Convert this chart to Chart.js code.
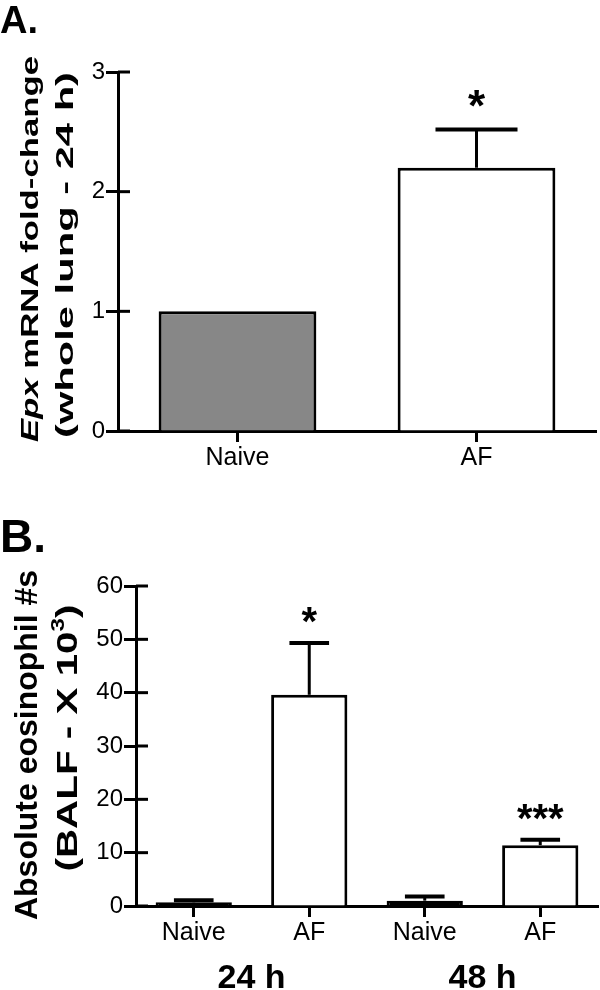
<!DOCTYPE html>
<html lang="en">
<head>
<meta charset="UTF-8">
<title>Epx mRNA and BALF eosinophils</title>
<script src="https://cdn.jsdelivr.net/npm/chart.js"></script>
<style>
  body { margin: 0; background: #fff; }
  canvas { position: absolute; left: 0; }
  #panelA { top: 0; }
  #panelB { top: 480px; }
</style>
</head>
<body>
<canvas id="panelA" width="600" height="480"></canvas>
<canvas id="panelB" width="600" height="510"></canvas>
<script>
// Panel A - Epx mRNA fold change (whole lung, 24 h)
const labelsA = ['Naive', 'AF'];
const valuesA = [1.0, 2.2];
const errorsA = [0, 0.32];
const starsA = ['', '*'];
const colorsA = ['#878787', '#ffffff'];
const ticksA = [0, 1, 2, 3];

// Panel B - absolute eosinophil numbers in BALF (x 10^3)
const labelsB = ['Naive', 'AF', 'Naive', 'AF'];
const valuesB = [0.7, 39.6, 1.0, 11.4];
const errorsB = [0.4, 9.7, 0.8, 1.0];
const starsB = ['', '*', '', '***'];
const colorsB = ['#000000', '#ffffff', '#000000', '#ffffff'];
const groupsB = ['24 h', '48 h'];
const ticksB = [0, 10, 20, 30, 40, 50, 60];

const FONT = "'Liberation Sans', Arial, sans-serif";

// rotated axis title, stretched along the text to a given length
function drawVertical(ctx, parts, x, cy, size, len) {
  ctx.save();
  ctx.translate(x, cy);
  ctx.rotate(-Math.PI / 2);
  let total = 0;
  parts.forEach(p => {
    ctx.font = (p.italic ? 'italic ' : '') + 'bold ' + (p.sup ? size * 0.6 : size) + 'px ' + FONT;
    p.w = ctx.measureText(p.text).width;
    total += p.w;
  });
  ctx.scale(len / total, 1);
  let cur = -total / 2;
  ctx.fillStyle = '#000';
  ctx.textBaseline = 'alphabetic';
  ctx.textAlign = 'left';
  parts.forEach(p => {
    ctx.font = (p.italic ? 'italic ' : '') + 'bold ' + (p.sup ? size * 0.6 : size) + 'px ' + FONT;
    ctx.fillText(p.text, cur, p.sup ? -size * 0.42 : 0);
    cur += p.w;
  });
  ctx.restore();
}

function extras(cfg) {
  return {
    id: 'extras',
    afterDraw(chart) {
      const ctx = chart.ctx, y = chart.scales.y, x = chart.scales.x;
      const area = chart.chartArea;
      ctx.save();
      ctx.strokeStyle = '#000';
      ctx.fillStyle = '#000';
      // inner half of the y ticks
      ctx.lineWidth = 3;
      y.ticks.forEach(t => {
        const py = y.getPixelForValue(t.value);
        ctx.beginPath();
        ctx.moveTo(area.left, py);
        ctx.lineTo(area.left + 12, py);
        ctx.stroke();
      });
      // error bars (SEM, upper only) and significance stars
      const meta = chart.getDatasetMeta(0);
      meta.data.forEach((bar, i) => {
        const top = y.getPixelForValue(cfg.values[i] + cfg.errors[i]);
        const half = bar.width * 0.26;
        if (cfg.errors[i] > 0) {
          ctx.lineWidth = 3;
          ctx.beginPath();
          ctx.moveTo(bar.x, bar.y);
          ctx.lineTo(bar.x, top);
          ctx.stroke();
          ctx.lineWidth = 4;
          ctx.beginPath();
          ctx.moveTo(bar.x - half, top);
          ctx.lineTo(bar.x + half, top);
          ctx.stroke();
        }
        if (cfg.stars[i]) {
          ctx.font = 'bold ' + cfg.starSize + 'px ' + FONT;
          ctx.textAlign = 'center';
          ctx.textBaseline = 'alphabetic';
          ctx.fillText(cfg.stars[i], bar.x, top - 8);
        }
      });
      // group labels under the category labels
      if (cfg.groups) {
        ctx.font = 'bold 34px ' + FONT;
        ctx.textAlign = 'center';
        ctx.textBaseline = 'alphabetic';
        cfg.groups.forEach((g, k) => {
          const gx = (x.getPixelForValue(2 * k) + x.getPixelForValue(2 * k + 1)) / 2;
          ctx.fillText(g, gx, chart.height - 2);
        });
      }
      // panel letter
      ctx.font = 'bold ' + cfg.letterSize + 'px ' + FONT;
      ctx.textAlign = 'left';
      ctx.textBaseline = 'alphabetic';
      ctx.fillText(cfg.letter, 0, cfg.letterY);
      ctx.restore();
      // y axis title lines
      cfg.title.forEach(line => drawVertical(ctx, line.parts, line.x, line.cy, line.size, line.len));
    }
  };
}

function makeChart(labels, values, colors, ticks, layout) {
  return {
    type: 'bar',
    data: {
      labels: labels,
      datasets: [{
        data: values,
        backgroundColor: colors,
        borderColor: '#000',
        borderWidth: 3,
        barPercentage: 0.66,
        categoryPercentage: 1
      }]
    },
    options: {
      responsive: false,
      animation: false,
      layout: { padding: { left: 0, top: layout.top, right: layout.right, bottom: 0 } },
      plugins: { legend: { display: false }, tooltip: { enabled: false } },
      scales: {
        x: {
          offset: true,
          grid: { offset: false, drawOnChartArea: false, tickLength: 11, tickWidth: 3, tickColor: '#000' },
          border: { color: '#000', width: 3 },
          ticks: { color: '#000', font: { family: FONT, size: 25 }, padding: 1, maxRotation: 0 },
          afterFit: s => { s.height = layout.xHeight; }
        },
        y: {
          min: ticks[0],
          max: ticks[ticks.length - 1],
          afterBuildTicks: s => { s.ticks = ticks.map(v => ({ value: v })); },
          grid: { drawOnChartArea: false, tickLength: 12, tickWidth: 3, tickColor: '#000' },
          border: { color: '#000', width: 3 },
          ticks: { color: '#000', font: { family: FONT, size: 24 }, padding: 1 },
          afterFit: s => { s.width = layout.yWidth; }
        }
      }
    }
  };
}

const cfgA = makeChart(labelsA, valuesA, colorsA, ticksA,
  { top: 72, right: 4, xHeight: 49, yWidth: 118 });
cfgA.plugins = [extras({
  values: valuesA, errors: errorsA, stars: starsA, starSize: 44,
  letter: 'A.', letterSize: 38, letterY: 33,
  title: [
    { parts: [{ text: 'Epx', italic: true }, { text: ' mRNA fold-change' }], x: 38, cy: 249, size: 24, len: 386 },
    { parts: [{ text: '(whole lung - 24 h)' }], x: 73, cy: 255, size: 24, len: 366 }
  ]
})];
new Chart(document.getElementById('panelA'), cfgA);

const cfgB = makeChart(labelsB, valuesB, colorsB, ticksB,
  { top: 106, right: 2, xHeight: 84, yWidth: 136 });
cfgB.plugins = [extras({
  values: valuesB, errors: errorsB, stars: starsB, starSize: 40, groups: groupsB,
  letter: 'B.', letterSize: 46, letterY: 72,
  title: [
    { parts: [{ text: 'Absolute eosinophil #s' }], x: 37, cy: 265, size: 32, len: 350 },
    { parts: [{ text: '(BALF - X 10' }, { text: '3', sup: true }, { text: ')' }], x: 77, cy: 258, size: 30, len: 267 }
  ]
})];
new Chart(document.getElementById('panelB'), cfgB);
</script>
</body>
</html>
